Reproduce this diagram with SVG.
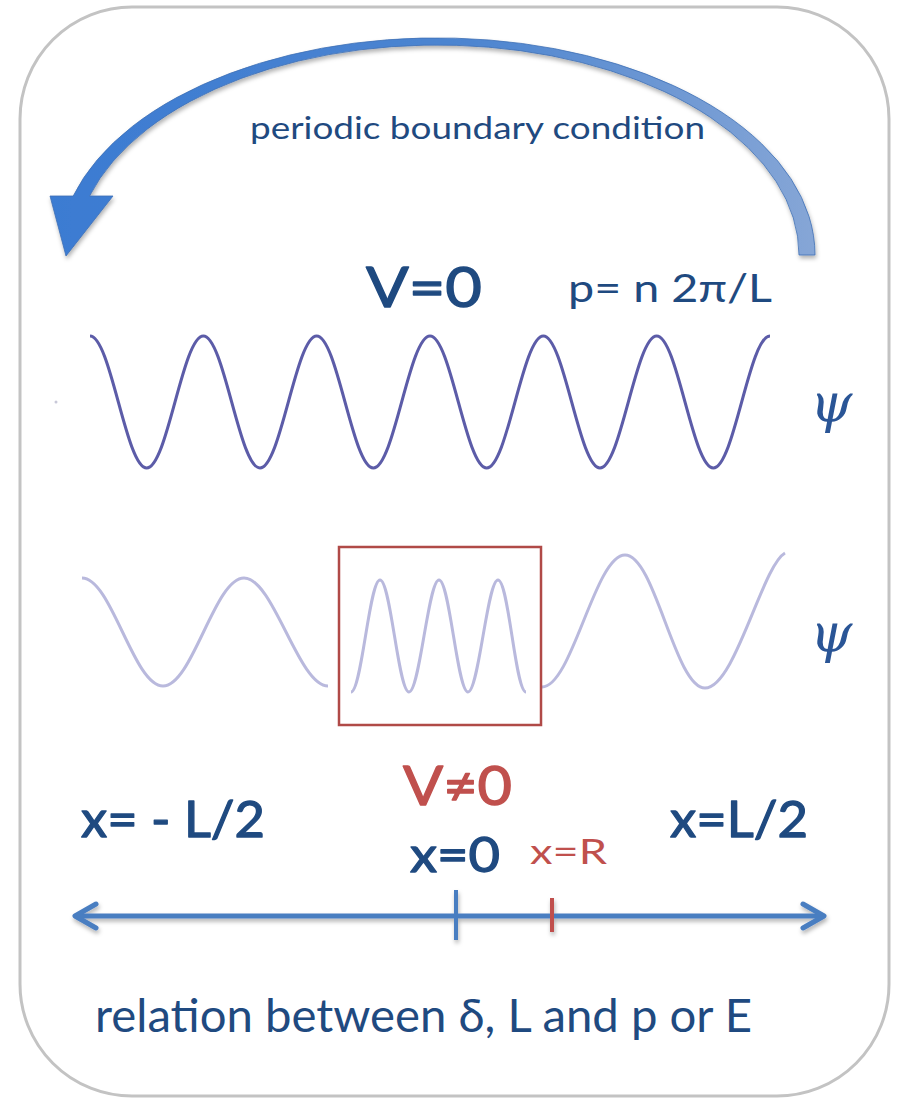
<svg xmlns="http://www.w3.org/2000/svg" width="903" height="1099" viewBox="0 0 903 1099">
  <defs>
    <linearGradient id="arcGrad" x1="0" y1="0" x2="1" y2="0">
      <stop offset="0" stop-color="#3b7bd2"/>
      <stop offset="0.55" stop-color="#4d85d0"/>
      <stop offset="1" stop-color="#86a6d6"/>
    </linearGradient>
    <filter id="shadow" x="-10%" y="-10%" width="120%" height="130%">
      <feDropShadow dx="1" dy="3" stdDeviation="2" flood-color="#000" flood-opacity="0.3"/>
    </filter>
    <filter id="soft" x="-5%" y="-5%" width="110%" height="110%">
      <feGaussianBlur stdDeviation="0.5"/>
    </filter>
  </defs>
  <style>
    text { font-family: Lato, "Open Sans", "Liberation Sans", sans-serif; }
    .blue { fill: #1f4a80; }
    .red { fill: #c0504d; }
    .med { stroke-width: 1.3; stroke-linejoin: round; }
    .blue.med { stroke: #1f4a80; }
    .red.med { stroke: #c0504d; }
    .psi { font-family: "DejaVu Serif", "Liberation Serif", serif; font-style: italic; fill: #2a5596; font-size: 54px; }
    .wave1 { fill: none; stroke: #5c5ca8; stroke-width: 3; }
    .wave2 { fill: none; stroke: #b9b9dd; stroke-width: 3; }
    .axis { fill: none; stroke: #4a7ec1; stroke-width: 5; stroke-linecap: round; stroke-linejoin: round; }
  </style>
  <rect width="903" height="1099" fill="#ffffff"/>

  <g id="frame">
    <rect x="20" y="7" width="869" height="1089" rx="112" ry="112" fill="none" stroke="#c3c3c3" stroke-width="3"/>
  </g>

  <g id="connectors">
    <path id="pbc-arrow" filter="url(#shadow)" fill="url(#arcGrad)" stroke="#3f70b5" stroke-width="0.8"
      d="M 799 255 L 815 255 A 378 217 0 0 0 73.2 196 L 50 196 L 66 256 L 113 196 L 89.6 196 A 362 210 0 0 1 799 255 Z"/>
    <g id="x-axis" filter="url(#shadow)">
      <line class="axis" x1="76" y1="916" x2="823" y2="916"/>
      <polyline class="axis" points="96,904 75,916 96,928"/>
      <polyline class="axis" points="803,904 824,916 803,928"/>
      <line x1="456" y1="890" x2="456" y2="940" stroke="#4a7ec1" stroke-width="4"/>
      <line x1="552" y1="898" x2="552" y2="932" stroke="#c0504d" stroke-width="4"/>
    </g>
  </g>

  <g id="label-pbc">
    <text class="blue" x="250" y="139" font-size="30" textLength="455" lengthAdjust="spacingAndGlyphs">periodic boundary condition</text>
  </g>

  <g id="label-v0">
    <text class="blue med" x="366" y="307" font-size="56" textLength="116" lengthAdjust="spacingAndGlyphs">V=0</text>
  </g>
  <g id="label-p">
    <text class="blue" x="568" y="302" font-size="38" textLength="204" lengthAdjust="spacingAndGlyphs">p= n 2π/L</text>
  </g>

  <g id="wave-free">
    <circle cx="56" cy="402" r="1.5" fill="#c8c8d8"/>
    <path class="wave1" filter="url(#soft)" d="M 90 336 C 110.63 336 126.04 468 146.67 468 S 182.7 336 203.33 336 S 239.37 468 260 468 S 296.04 336 316.67 336 S 352.7 468 373.33 468 S 409.37 336 430 336 S 466.04 468 486.67 468 S 522.7 336 543.33 336 S 579.37 468 600 468 S 636.04 336 656.67 336 S 692.7 468 713.33 468 S 749.37 336 770 336"/>
  </g>

  <g id="psi-1">
    <text class="psi" x="810" y="422">ψ</text>
  </g>

  <g id="wave-potential">
    <path class="wave2" filter="url(#soft)" d="M 82 578 C 111.5 578 133.5 686 163 686 S 214.5 578 244 578 S 298.5 686 328 686"/>
    <path class="wave2" filter="url(#soft)" d="M 351 692 C 361.7 692 369.3 580 380 580 S 398.3 692 409 692 S 428.3 580 439 580 S 457.3 692 468 692 S 487.3 580 498 580 S 515.3 692 526 692"/>
    <path class="wave2" filter="url(#soft)" d="M 542 687 C 572 687 595 555 625 555 S 675 688 705 688 S 762 566 785 553"/>
  </g>

  <g id="potential-box">
    <rect x="339" y="547" width="202" height="178" fill="none" stroke="#b04a47" stroke-width="2.5"/>
  </g>

  <g id="psi-2">
    <text class="psi" x="810" y="652">ψ</text>
  </g>

  <g id="label-vneq0">
    <text class="red med" x="403" y="805" font-size="54" textLength="109" lengthAdjust="spacingAndGlyphs">V≠0</text>
  </g>
  <g id="label-left">
    <text class="blue med" x="81" y="837" font-size="51" textLength="184" lengthAdjust="spacingAndGlyphs">x= - L/2</text>
  </g>
  <g id="label-right">
    <text class="blue med" x="670" y="837" font-size="51" textLength="138" lengthAdjust="spacingAndGlyphs">x=L/2</text>
  </g>
  <g id="label-x0">
    <text class="blue med" x="410" y="872" font-size="49" textLength="90" lengthAdjust="spacingAndGlyphs">x=0</text>
  </g>
  <g id="label-xR">
    <text class="red" x="530" y="864" font-size="34" textLength="77" lengthAdjust="spacingAndGlyphs">x=R</text>
  </g>

  <g id="label-relation">
    <text class="blue" x="95" y="1032" font-size="46" textLength="657" lengthAdjust="spacingAndGlyphs">relation between δ, L and p or E</text>
  </g>
</svg>
